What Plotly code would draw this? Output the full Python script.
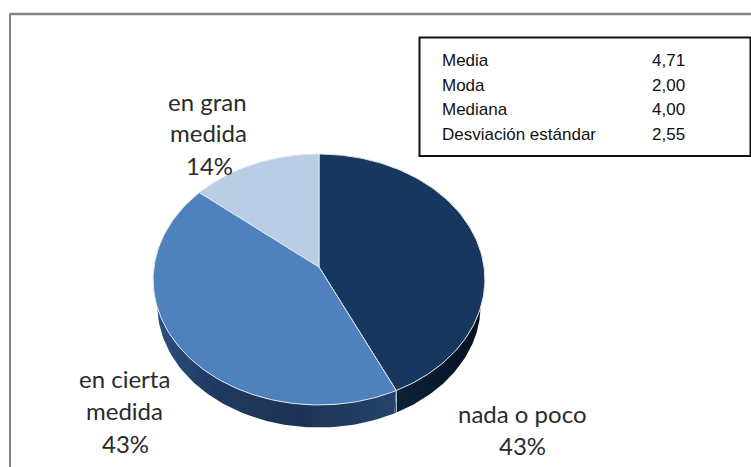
import numpy as np
import plotly.graph_objects as go

categories = ["nada o poco", "en cierta medida", "en gran medida"]
values = [43, 43, 14]
face_colors = ["#17375E", "#4F81BD", "#B9CDE5"]

stat_names = ["Media", "Moda", "Mediana", "Desviación estándar"]
stat_values = ["4,71", "2,00", "4,00", "2,55"]

# pie label lines: text, x centre, y centre (page pixels)
label_lines = [
    ("en gran", 207, 101), ("medida", 208, 132), ("14%", 209, 165),
    ("en cierta", 124, 378), ("medida", 124, 410), ("43%", 125, 443),
    ("nada o poco", 522, 413), ("43%", 522, 445),
]
stat_rows_y = [60, 85, 109, 134]

CX, CY, RX0, RY0, K = 319, 267, 165.0, 124.2, 0.0997
DEPTH, WALL_SCALE = 26, 0.975


def project(theta, scale=1.0, dy=0.0):
    w = 1 + K * np.cos(theta)
    return (CX + scale * RX0 * np.sin(theta) / w,
            CY + dy - scale * RY0 * np.cos(theta) / w)


total = sum(values)
edges = 2 * np.pi * np.concatenate([[0], np.cumsum(values)]) / total

fig = go.Figure()


def wall(t0, t1, colorscale):
    t = np.linspace(t0, t1, 80)
    xb, yb = project(t, WALL_SCALE, DEPTH)
    xt, yt = project(t[::-1])
    fig.add_trace(go.Scatter(
        x=np.concatenate([xb, xt]), y=np.concatenate([yb, yt]),
        mode="lines", line=dict(width=0), fill="toself",
        fillgradient=dict(type="horizontal", colorscale=colorscale),
        hoverinfo="skip", showlegend=False))


wall(np.pi / 2, edges[1], [[0, "#0E2138"], [0.5, "#0A1A2E"], [1, "#060F1C"]])
wall(edges[1], 3 * np.pi / 2, [[0, "#2C5080"], [0.25, "#1F3A60"], [0.6, "#1D3355"], [1, "#26436B"]])

# white seam on the wall
sx0, sy0 = project(edges[1])
sx1, sy1 = project(edges[1], WALL_SCALE, DEPTH)
fig.add_trace(go.Scatter(x=[sx0, sx0], y=[sy0, sy1], mode="lines",
                         line=dict(color="#E8EEF5", width=1),
                         hoverinfo="skip", showlegend=False))

for i, (name, col) in enumerate(zip(categories, face_colors)):
    t = np.linspace(edges[i], edges[i + 1], 120)
    x, y = project(t)
    fig.add_trace(go.Scatter(
        x=np.concatenate([[CX], x, [CX]]), y=np.concatenate([[CY], y, [CY]]),
        mode="lines", name=name, fill="toself", fillcolor=col,
        line=dict(color="#DCE6F1", width=1), hoverinfo="name", showlegend=False))

ann = []
for text, x, y in label_lines:
    ann.append(dict(x=x, y=y, text=text, showarrow=False, xanchor="center", yanchor="middle",
                    font=dict(family="Lato, 'Open Sans', sans-serif", size=24, color="#2B2B2B")))
for name, val, y in zip(stat_names, stat_values, stat_rows_y):
    ann.append(dict(x=440, y=y, text=name, showarrow=False, xanchor="left", yanchor="middle",
                    font=dict(family="'Liberation Sans', sans-serif", size=17, color="#111111")))
    ann.append(dict(x=650, y=y, text=val, showarrow=False, xanchor="left", yanchor="middle",
                    font=dict(family="'Liberation Sans', sans-serif", size=17, color="#111111")))

shapes = [
    dict(type="line", x0=9.5, x1=751, y0=14, y1=14, line=dict(color="#858585", width=2.5)),
    dict(type="line", x0=10, x1=10, y0=14, y1=467, line=dict(color="#858585", width=2)),
    dict(type="rect", x0=419.5, x1=750.5, y0=37.5, y1=156, line=dict(color="#111111", width=2),
         fillcolor="white"),
]

fig.update_layout(
    width=751, height=467, autosize=False,
    margin=dict(l=0, r=0, t=0, b=0),
    paper_bgcolor="white", plot_bgcolor="white",
    xaxis=dict(range=[0, 751], visible=False, fixedrange=True),
    yaxis=dict(range=[467, 0], visible=False, fixedrange=True),
    annotations=ann, shapes=shapes,
)
fig.write_html("out.html", config={"displayModeBar": False},
               post_script="document.body.style.margin='0';document.body.style.overflow='hidden';")
